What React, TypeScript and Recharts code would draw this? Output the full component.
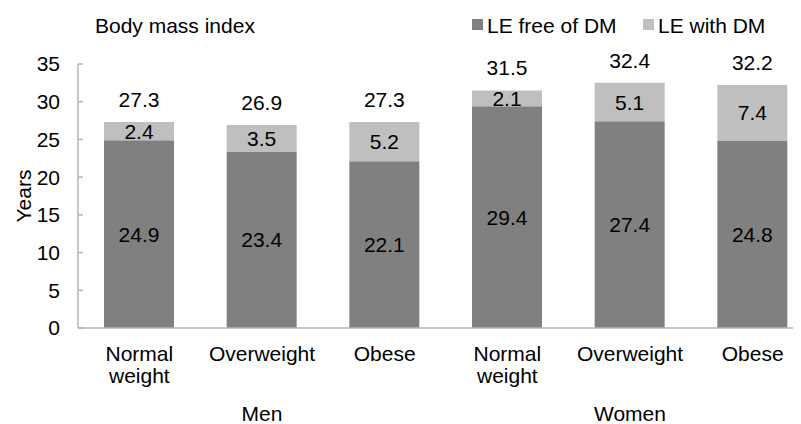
import React from 'react';
import { BarChart, Bar, XAxis, YAxis, LabelList, Legend } from 'recharts';

const categories = ['Normal\nweight', 'Overweight', 'Obese', 'Normal\nweight', 'Overweight', 'Obese'];
const groups = ['Men', 'Men', 'Men', 'Women', 'Women', 'Women'];
const leFree = [24.9, 23.4, 22.1, 29.4, 27.4, 24.8];
const leWith = [2.4, 3.5, 5.2, 2.1, 5.1, 7.4];
const totals = [27.3, 26.9, 27.3, 31.5, 32.4, 32.2];
const yTicks = [0, 5, 10, 15, 20, 25, 30, 35];
const seriesNames = ['LE free of DM', 'LE with DM'];
const title = 'Body mass index';
const yLabel = 'Years';

const FONT = '"Liberation Sans", Arial, Helvetica, sans-serif';
const DARK = '#808080';
const LIGHT = '#bfbfbf';
const AXIS = '#b4b4b4';

const data = categories.map((c, i) => ({
  key: `${groups[i]}|${c}|${i}`,
  label: c,
  group: groups[i],
  free: leFree[i],
  withDm: leWith[i],
  total: totals[i],
}));

// middle index of each group
const groupMid: Record<number, string> = {};
{
  const seen: Record<string, number[]> = {};
  groups.forEach((g, i) => {
    (seen[g] = seen[g] || []).push(i);
  });
  Object.keys(seen).forEach((g) => {
    const idx = seen[g];
    groupMid[idx[Math.floor(idx.length / 2)]] = g;
  });
}

const XTick = (props: any) => {
  const { x, y, index } = props;
  const d = data[index];
  const lines = d ? d.label.split('\n') : [];
  return (
    <g>
      {lines.map((l: string, k: number) => (
        <text key={k} x={x} y={y + 33 + k * 22} textAnchor="middle" fontSize={21} fontFamily={FONT} fill="#000">
          {l}
        </text>
      ))}
      {groupMid[index] !== undefined && (
        <text x={x} y={y + 93} textAnchor="middle" fontSize={21} fontFamily={FONT} fill="#000">
          {groupMid[index]}
        </text>
      )}
    </g>
  );
};

const YTick = (props: any) => {
  const { x, y, payload } = props;
  return (
    <g>
      <line x1={x} x2={x + 5} y1={y} y2={y} stroke={AXIS} strokeWidth={1.5} />
      <text x={x - 18} y={y} dy="0.355em" textAnchor="end" fontSize={21} fontFamily={FONT} fill="#000">
        {payload.value}
      </text>
    </g>
  );
};

const LegendContent = () => (
  <svg width={793} height={40} style={{ display: 'block' }}>
    <text x={87} y={25} fontSize={21} fontFamily={FONT} fill="#000">
      {title}
    </text>
    <rect x={464} y={11} width={11} height={11} fill={DARK} />
    <text x={479} y={25} fontSize={21} fontFamily={FONT} fill="#000">
      {seriesNames[0]}
    </text>
    <rect x={635} y={11} width={11} height={11} fill={LIGHT} />
    <text x={650} y={25} fontSize={21} fontFamily={FONT} fill="#000">
      {seriesNames[1]}
    </text>
  </svg>
);

export default function App() {
  return (
    <div style={{ width: 793, height: 416, overflow: 'hidden', position: 'relative' }}>
      <BarChart
        width={806}
        height={416}
        data={data}
        margin={{ top: 56, right: 0, bottom: 6, left: 10 }}
        barSize={70}
      >
        <XAxis
          dataKey="key"
          interval={0}
          tickLine={false}
          tickSize={0}
          tickMargin={0}
          height={90}
          axisLine={{ stroke: AXIS, strokeWidth: 1.5 }}
          tick={<XTick />}
        />
        <YAxis
          domain={[0, 35]}
          ticks={yTicks}
          interval={0}
          width={60}
          tickLine={false}
          tickSize={0}
          tickMargin={0}
          axisLine={{ stroke: AXIS, strokeWidth: 1.5 }}
          tick={<YTick />}
          label={{
            value: yLabel,
            angle: -90,
            position: 'insideLeft',
            content: () => (
              <text
                x={23}
                y={188}
                transform={`rotate(-90 23 188)`}
                textAnchor="middle"
                fontSize={21}
                fontFamily={FONT}
                fill="#000"
              >
                {yLabel}
              </text>
            ),
          }}
        />
        <Legend
          layout="vertical"
          align="center"
          verticalAlign="middle"
          content={<LegendContent />}
          wrapperStyle={{ top: 0, left: 0, width: 793, height: 40 }}
        />
        <Bar dataKey="free" name={seriesNames[0]} stackId="a" fill={DARK} isAnimationActive={false}>
          <LabelList dataKey="free" position="center" fill="#000" fontSize={21} fontFamily={FONT} />
        </Bar>
        <Bar dataKey="withDm" name={seriesNames[1]} stackId="a" fill={LIGHT} isAnimationActive={false}>
          <LabelList dataKey="withDm" position="center" fill="#000" fontSize={21} fontFamily={FONT} />
          <LabelList dataKey="total" position="top" offset={15} fill="#000" fontSize={21} fontFamily={FONT} />
        </Bar>
      </BarChart>
    </div>
  );
}
